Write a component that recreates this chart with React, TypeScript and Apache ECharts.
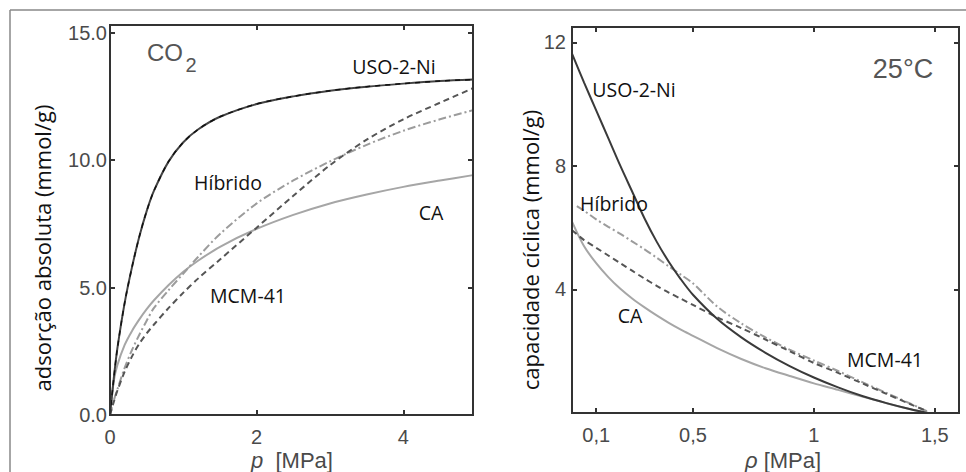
import React, { useEffect, useRef } from "react";
import * as echarts from "echarts";

// ---------- Left panel: absolute CO2 adsorption vs p ----------
const LEFT_P = [0, 0.05, 0.1, 0.2, 0.3, 0.4, 0.5, 0.6, 0.8, 1.0, 1.2, 1.5, 2.0, 2.5, 3.0, 3.5, 4.0, 4.5, 4.95];
const LEFT_USO = [0, 1.4, 2.6, 4.4, 5.8, 7.0, 8.0, 8.8, 9.95, 10.7, 11.2, 11.7, 12.2, 12.5, 12.72, 12.88, 13.0, 13.1, 13.16];
const LEFT_CA = [0, 1.3, 1.95, 2.75, 3.3, 3.75, 4.15, 4.5, 5.1, 5.62, 6.05, 6.6, 7.3, 7.85, 8.3, 8.65, 8.95, 9.2, 9.41];
const LEFT_MCM = [0, 0.5, 0.95, 1.7, 2.3, 2.8, 3.2, 3.55, 4.2, 4.8, 5.35, 6.1, 7.35, 8.6, 9.8, 10.8, 11.6, 12.25, 12.82];
const LEFT_HIB = [0, 0.55, 1.0, 1.85, 2.55, 3.15, 3.7, 4.2, 4.9, 5.55, 6.2, 7.1, 8.3, 9.2, 9.95, 10.6, 11.15, 11.6, 11.96];

const LEFT_X_TICKS = [0, 2, 4];
const LEFT_Y_TICKS = [0, 5, 10, 15];

// ---------- Right panel: cyclic capacity vs p ----------
const RIGHT_P = [0, 0.05, 0.1, 0.15, 0.2, 0.25, 0.3, 0.35, 0.4, 0.45, 0.5, 0.6, 0.7, 0.8, 0.9, 1.0, 1.1, 1.2, 1.3, 1.4, 1.47];
const RIGHT_USO = [11.64, 10.7, 9.8, 8.9, 8.0, 7.15, 6.3, 5.55, 4.9, 4.33, 3.83, 3.05, 2.45, 1.95, 1.52, 1.15, 0.83, 0.55, 0.32, 0.12, 0];
const RIGHT_CA = [6.2, 5.4, 4.85, 4.4, 4.02, 3.7, 3.42, 3.16, 2.92, 2.7, 2.5, 2.1, 1.75, 1.45, 1.2, 0.96, 0.75, 0.53, 0.32, 0.12, 0];
const RIGHT_MCM = [5.92, 5.6, 5.35, 5.1, 4.85, 4.6, 4.35, 4.12, 3.9, 3.7, 3.5, 3.1, 2.75, 2.38, 2.0, 1.62, 1.3, 0.96, 0.62, 0.28, 0.05];
const RIGHT_P_HIB = [0.02, 0.05, 0.1, 0.15, 0.2, 0.25, 0.3, 0.35, 0.4, 0.45, 0.5, 0.6, 0.7, 0.8, 0.9, 1.0, 1.1, 1.2, 1.3, 1.4, 1.47];
const RIGHT_HIB = [6.7, 6.55, 6.27, 6.03, 5.8, 5.55, 5.3, 5.03, 4.75, 4.48, 4.2, 3.45, 2.9, 2.45, 2.05, 1.7, 1.36, 1.0, 0.65, 0.3, 0.05];

const RIGHT_X_TICKS = [0.1, 0.5, 1, 1.5];
const RIGHT_Y_TICKS = [4, 8, 12];

const FRAME = "#333";
const TICK_FONT = "Liberation Sans";
const TEXT_FONT = "Open Sans";

// plot boxes (layout)
const LEFT_BOX = { left: 110, top: 25, width: 363, height: 390 };
const RIGHT_BOX = { left: 572, top: 27, width: 387, height: 386 };

function pairs(xs: number[], ys: number[]) {
  return xs.map((x, i) => [x, ys[i]]);
}

export default function App() {
  const ref = useRef<HTMLDivElement>(null);

  useEffect(() => {
    if (!ref.current) return;
    const chart = echarts.init(ref.current, undefined, { renderer: "svg" });

    const tickStyle = { color: FRAME, width: 2 };
    const labelStyle = { fontFamily: TICK_FONT, fontSize: 20, color: "#4a4a4a" };

    const xAxis = (grid: number, max: number, ticks: number[], bottom: boolean, fmt?: (v: number) => string) => ({
      gridIndex: grid,
      type: "value",
      min: 0,
      max,
      position: bottom ? "bottom" : "top",
      axisLine: { show: false, onZero: false },
      axisTick: { show: true, inside: true, length: 5, customValues: ticks.filter((t) => t !== 0), lineStyle: tickStyle },
      axisLabel: bottom
        ? { show: true, customValues: ticks, margin: 12, ...labelStyle, formatter: fmt }
        : { show: false },
      splitLine: { show: false },
    });
    const yAxis = (grid: number, max: number, ticks: number[], left: boolean, fmt?: (v: number) => string, margin = 3) => ({
      gridIndex: grid,
      type: "value",
      min: 0,
      max,
      position: left ? "left" : "right",
      axisLine: { show: false, onZero: false },
      axisTick: { show: true, inside: true, length: 5, customValues: ticks.filter((t) => t !== 0), lineStyle: tickStyle },
      axisLabel: left
        ? { show: true, customValues: ticks, margin, ...labelStyle, formatter: fmt }
        : { show: false },
      splitLine: { show: false },
    });

    const comma = (v: number) => String(v).replace(".", ",");

    const line = (name: string, xi: number, yi: number, data: number[][], color: string, type: any, width = 2, z = 3) => ({
      name,
      type: "line",
      xAxisIndex: xi,
      yAxisIndex: yi,
      data,
      showSymbol: false,
      smooth: 0.3,
      lineStyle: { color, width, type },
      z,
    });

    const dashDot = [8, 3, 2, 3];
    const dash = [6, 4];

    const text = (t: string, x: number, y: number, size: number, opts: any = {}) => ({
      type: "text",
      x,
      y,
      rotation: opts.rotation || 0,
      z: 10,
      style: {
        text: t,
        fontFamily: opts.font || TEXT_FONT,
        fontSize: size,
        fill: opts.fill || "#111",
        align: "center",
        verticalAlign: "middle",
        rich: opts.rich,
      },
    });

    const box = (b: any) => ({
      type: "rect",
      z: 20,
      shape: { x: b.left, y: b.top, width: b.width, height: b.height },
      style: { fill: "none", stroke: FRAME, lineWidth: 2 },
    });

    const italic = { i: { fontStyle: "italic", fontFamily: TICK_FONT, fontSize: 22, fill: "#4a4a4a" } };

    chart.setOption({
      animation: false,
      backgroundColor: "#fff",
      grid: [
        { ...LEFT_BOX, show: false },
        { ...RIGHT_BOX, show: false },
      ],
      xAxis: [
        xAxis(0, 4.95, LEFT_X_TICKS, true),
        xAxis(0, 4.95, LEFT_X_TICKS, false),
        xAxis(1, 1.6, RIGHT_X_TICKS, true, comma),
        xAxis(1, 1.6, RIGHT_X_TICKS, false),
      ],
      yAxis: [
        yAxis(0, 15.3, LEFT_Y_TICKS, true, (v: number) => v.toFixed(1), 3),
        yAxis(0, 15.3, LEFT_Y_TICKS, false),
        yAxis(1, 12.5, RIGHT_Y_TICKS, true, undefined, 6),
        yAxis(1, 12.5, RIGHT_Y_TICKS, false),
      ],
      series: [
        line("CA", 0, 0, pairs(LEFT_P, LEFT_CA), "#a6a6a6", "solid"),
        line("Híbrido", 0, 0, pairs(LEFT_P, LEFT_HIB), "#9c9c9c", dashDot),
        line("MCM-41", 0, 0, pairs(LEFT_P, LEFT_MCM), "#555", dash),
        line("USO-2-Ni", 0, 0, pairs(LEFT_P, LEFT_USO), "#444", "solid"),
        line("USO-2-Ni", 0, 0, pairs(LEFT_P, LEFT_USO), "#111", [5, 5], 1.5, 4),
        line("CA", 2, 2, pairs(RIGHT_P, RIGHT_CA), "#a6a6a6", "solid"),
        line("Híbrido", 2, 2, pairs(RIGHT_P_HIB, RIGHT_HIB), "#9c9c9c", dashDot),
        line("MCM-41", 2, 2, pairs(RIGHT_P, RIGHT_MCM), "#555", dash),
        line("USO-2-Ni", 2, 2, pairs(RIGHT_P, RIGHT_USO), "#3a3a3a", "solid"),
      ],
      graphic: [
        { type: "line", z: 20, shape: { x1: 10, y1: 10, x2: 966, y2: 10 }, style: { stroke: "#888", lineWidth: 1.5 } },
        { type: "line", z: 20, shape: { x1: 10, y1: 10, x2: 10, y2: 472 }, style: { stroke: "#888", lineWidth: 1.5 } },
        box(LEFT_BOX),
        box(RIGHT_BOX),
        // left panel labels
        text("CO", 165, 52, 24, { font: TICK_FONT, fill: "#555" }),
        text("2", 191, 65, 20, { font: TICK_FONT, fill: "#555" }),
        text("USO-2-Ni", 394, 66, 19.5),
        text("Híbrido", 228, 182, 19.5),
        text("CA", 431, 212, 19.5),
        text("MCM-41", 248, 295, 19.5),
        text("adsorção absoluta (mmol/g)", 42, 248, 22, { rotation: Math.PI / 2 }),
        text("{i|p}  [MPa]", 292, 460, 22, { font: TICK_FONT, fill: "#4a4a4a", rich: italic }),
        // right panel labels
        text("25°C", 903, 69, 27, { font: TICK_FONT, fill: "#555" }),
        text("USO-2-Ni", 634, 89, 19.5),
        text("Híbrido", 614, 203, 19.5),
        text("CA", 630, 315, 19.5),
        text("MCM-41", 885, 359, 19.5),
        text("capacidade cíclica (mmol/g)", 530, 250, 22, { rotation: Math.PI / 2 }),
        text("{i|ρ} [MPa]", 783, 460, 22, { font: TICK_FONT, fill: "#4a4a4a", rich: italic }),
      ],
    });

    return () => chart.dispose();
  }, []);

  return (
    <div
      ref={ref}
      style={{ position: "fixed", left: 0, top: 0, width: 966, height: 472, background: "#fff" }}
    />
  );
}
